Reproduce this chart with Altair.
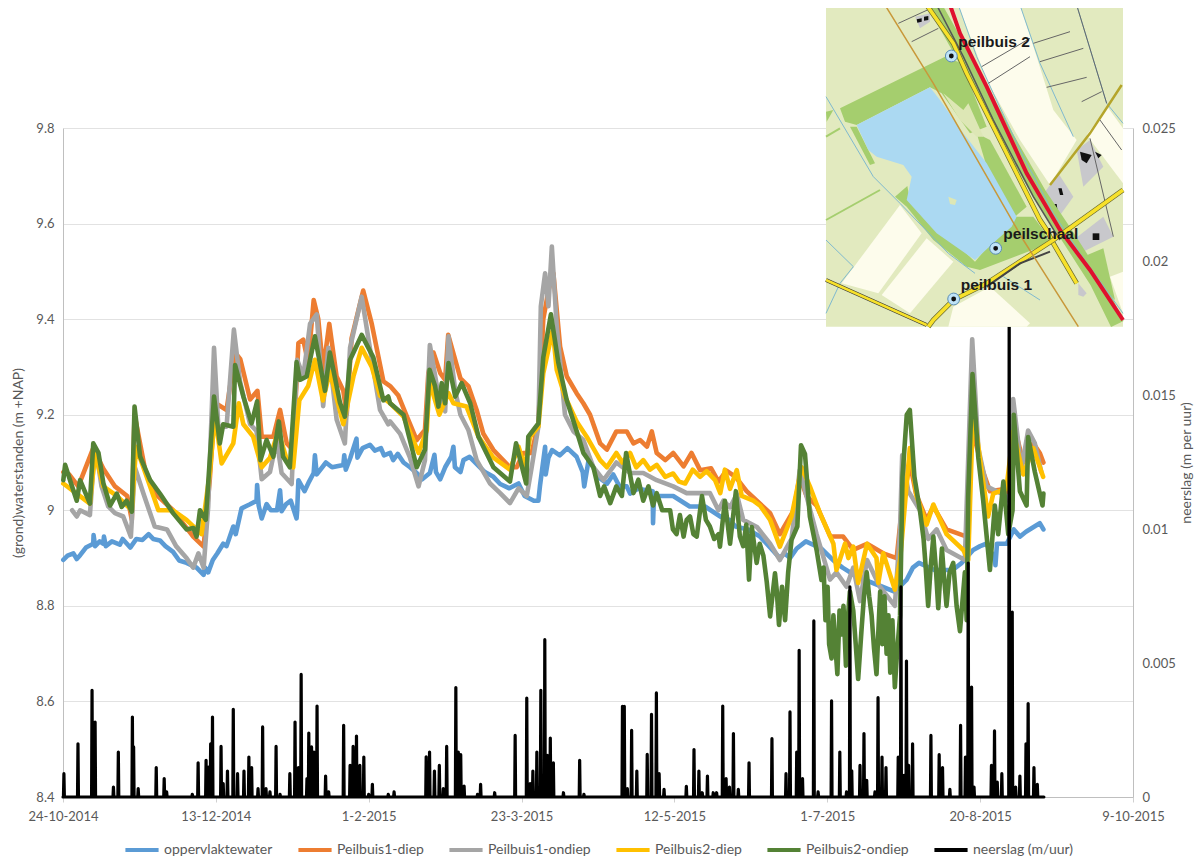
import altair as alt
import pandas as pd

tick_labels = ["24-10-2014", "13-12-2014", "1-2-2015", "23-3-2015", "12-5-2015", "1-7-2015", "20-8-2015", "9-10-2015"]
tick_days = [0, 50, 100, 150, 200, 250, 300, 350]
names = ["oppervlaktewater", "Peilbuis1-diep", "Peilbuis1-ondiep", "Peilbuis2-diep", "Peilbuis2-ondiep", "neerslag (m/uur)"]
colors = ["#5B9BD5", "#ED7D31", "#A5A5A5", "#FFC000", "#548235", "#000000"]

blue = [(0.1,8.896),(1.5,8.905),(3.4,8.91),(4.5,8.898),(5.6,8.906),(7.5,8.922),(9.9,8.93),(10,8.948),(10.5,8.925),(12,8.935),(13.2,8.93),(13.4,8.945),(14,8.925),(16,8.935),(18.6,8.928),(19.5,8.94),(22,8.922),(24,8.94),(26,8.938),(28,8.95),(29.5,8.94),(31.7,8.937),(33.5,8.925),(36,8.913),(38,8.895),(40.4,8.89),(43.7,8.88),(46,8.865),(46.5,8.88),(47.5,8.87),(49,8.896),(50.5,8.91),(52.4,8.93),(53.5,8.925),(55.7,8.966),(56.5,8.95),(58.4,9.004),(61,9.012),(63.3,9.02),(63.5,9.053),(64,9.01),(65,8.983),(66.6,9.013),(68,9.0),(70,9.0),(71,9.042),(71.5,8.998),(73,9.013),(74.5,9.02),(76.4,8.983),(76.6,9.0),(77,9.063),(79,9.04),(80.5,9.06),(82,9.078),(82.4,9.115),(83,9.075),(86,9.10),(88,9.09),(91.7,9.095),(92,9.115),(92.5,9.085),(94,9.11),(96,9.15),(96.3,9.11),(98,9.13),(100.4,9.137),(102,9.125),(104,9.13),(105,9.115),(107,9.12),(108,9.105),(109.5,9.118),(111.4,9.10),(113.5,9.09),(115.7,9.078),(117.5,9.065),(120,9.078),(121.5,9.116),(122,9.08),(123.4,9.065),(125,9.09),(127,9.112),(127.7,9.133),(128.2,9.09),(130,9.08),(131,9.105),(133,9.112),(136.4,9.09),(138,9.08),(140.8,9.07),(143,9.055),(146,9.046),(149,9.056),(151,9.03),(154,9.02),(155.5,9.02),(156,9.05),(157.7,9.133),(157.9,9.075),(158.8,9.11),(160,9.126),(162.5,9.115),(165,9.13),(168,9.112),(170,9.08),(170.5,9.05),(172,9.108),(175,9.07),(178,9.056),(180,9.075),(182,9.05),(184.4,9.05),(185.5,9.035),(188,9.045),(192.9,9.04),(193,8.973),(193.3,9.03),(199.6,9.03),(205,9.008),(210,9.008),(215,8.987),(218,8.98),(220,8.966),(224,8.96),(228,8.945),(234.5,8.90),(236,8.91),(237.8,8.9),(240,8.92),(243,8.935),(248,8.92),(252,8.895),(255,8.88),(260,8.86),(268,8.84),(272,8.83),(276,8.855),(278,8.88),(280,8.89),(285,8.875),(291,8.875),(294,8.89),(297.7,8.917),(300,8.925),(302,8.93),(304.8,8.9),(305,8.885),(305.5,8.93),(308.7,8.93),(311,8.96),(313,8.945),(315,8.955),(317.5,8.965),(319.5,8.973),(320.7,8.96)]

orange = [(0.1,9.08),(2,9.075),(5,9.05),(9.9,9.13),(13.2,9.087),(17,9.05),(21,9.03),(22.5,8.98),(23.4,9.2),(27,9.08),(31,9.03),(36,9.0),(42.6,8.945),(46,8.924),(48,9.063),(49.7,9.225),(53.5,9.21),(56.3,9.33),(58,9.316),(61.2,9.232),(63.6,9.25),(65,9.154),(68.8,9.154),(71,9.21),(73.2,9.14),(75.3,9.126),(77,9.35),(78.6,9.357),(80.2,9.308),(82,9.44),(83.5,9.4),(85.1,9.294),(87.1,9.39),(89.5,9.28),(91.7,9.25),(92.8,9.2),(94.4,9.36),(98.2,9.46),(101,9.39),(104.8,9.27),(107,9.26),(109.7,9.24),(112.5,9.196),(115.7,9.147),(118.4,9.168),(119.5,9.287),(121.2,9.33),(123.4,9.287),(125,9.273),(126,9.367),(128.3,9.315),(130,9.276),(132.6,9.26),(135.3,9.21),(137.5,9.16),(140.8,9.126),(146.2,9.09),(148.4,9.09),(150.6,9.12),(153.3,9.12),(155.5,9.182),(157.1,9.4),(158.8,9.46),(160.4,9.496),(162.6,9.343),(164.8,9.28),(168,9.245),(170.2,9.224),(172.4,9.2),(175.7,9.14),(177.9,9.127),(181,9.165),(184.4,9.165),(186.6,9.14),(188.8,9.147),(191,9.133),(192.6,9.165),(194.2,9.12),(197,9.105),(199.6,9.12),(203,9.092),(205.6,9.12),(208.4,9.084),(212,9.088),(214.4,9.06),(217,9.083),(220,9.07),(223.6,9.04),(231.3,8.994),(234.5,8.95),(239,9.0),(241,9.07),(243.2,9.03),(246.5,9.01),(251,8.945),(255.2,8.945),(258.5,8.917),(263,8.93),(268.3,8.91),(272.7,8.9),(274.3,9.0),(277,9.1),(279,9.035),(282.5,8.98),(284.7,9.008),(289,8.96),(295.6,8.945),(296.7,9.17),(298.8,9.135),(301,9.08),(303.2,9.04),(308.6,9.045),(309.7,9.025),(311.4,9.17),(314.1,9.1),(317.4,9.14),(319.5,9.12),(320.7,9.1)]

gray = [(3,9.0),(4.5,8.987),(5.6,9.0),(8.8,8.99),(9.9,9.09),(11,9.118),(12.6,9.05),(14.8,9.008),(17,8.994),(19.7,8.987),(22.2,8.945),(23.5,9.09),(26.3,9.035),(30,8.966),(34,8.96),(37,8.925),(40.4,8.9),(42.6,8.88),(44.3,8.91),(46,8.88),(47.5,9.008),(49.4,9.34),(50.8,9.175),(53.5,9.175),(55.9,9.378),(57.9,9.27),(61.2,9.18),(63.3,9.166),(65,9.065),(67.7,9.08),(69.9,9.147),(71.5,9.078),(74.8,9.055),(76.6,9.315),(78.6,9.28),(80.8,9.39),(83,9.41),(85.1,9.218),(86.8,9.34),(89.5,9.19),(92.2,9.14),(93.9,9.34),(97.7,9.447),(101,9.315),(103.7,9.21),(106.4,9.18),(107,9.186),(110.3,9.16),(113.5,9.11),(116.3,9.05),(118.4,9.105),(120,9.346),(122.3,9.26),(125,9.207),(126.1,9.364),(128.3,9.25),(130,9.2),(132.6,9.168),(135.3,9.105),(139.7,9.056),(143,9.036),(146.2,9.015),(149,9.046),(151.7,9.03),(153.3,9.09),(155.5,9.175),(156.3,9.427),(157.7,9.496),(158.8,9.427),(159.9,9.552),(161.5,9.385),(164.2,9.2),(167,9.165),(170.2,9.147),(173.5,9.09),(176.8,9.063),(181,9.1),(185.5,9.078),(189.8,9.078),(194.2,9.063),(199.6,9.05),(204,9.036),(208.4,9.036),(211.6,9.036),(214.4,9.0),(216,9.02),(218.2,9.006),(220.4,9.034),(222.5,8.98),(227,8.965),(231.3,8.93),(234.5,8.896),(238.3,8.94),(241,9.084),(243.2,9.03),(246.5,8.95),(250.9,8.855),(253,8.87),(256.3,8.84),(258.5,8.88),(260.7,8.81),(263,8.896),(267.2,8.84),(272.1,8.8),(273.8,8.96),(274.5,9.115),(276.5,9.04),(280.3,9.0),(283,8.94),(285.8,8.96),(289,8.917),(295,8.896),(297.4,9.358),(299.4,9.13),(302.1,9.05),(308.6,9.03),(309.7,9.017),(310.8,9.233),(313.5,9.085),(315.7,9.167),(317.9,9.14),(320,9.08)]

yellow = [(0.1,9.056),(4.5,9.035),(8.8,9.014),(10.5,9.12),(13.2,9.05),(17.6,9.03),(22.5,9.0),(23.9,9.133),(28.5,9.05),(31.2,9.0),(36,9.0),(40.4,8.98),(45.3,8.95),(48,9.078),(49.7,9.2),(51.9,9.098),(55.7,9.14),(57.5,9.224),(59,9.18),(62.2,9.154),(65,9.09),(67.7,9.11),(70.4,9.166),(73,9.11),(75.3,9.09),(77.3,9.23),(80.2,9.26),(82.4,9.315),(85,9.23),(87.3,9.29),(91.7,9.18),(95,9.28),(97.7,9.34),(101,9.3),(103.7,9.24),(107,9.224),(111.4,9.196),(116.3,9.12),(119,9.168),(119.9,9.273),(121,9.245),(123.1,9.2),(126.1,9.245),(127.7,9.224),(132,9.217),(135.9,9.154),(140.8,9.11),(146.2,9.085),(149,9.133),(151.1,9.09),(152.8,9.154),(155.5,9.175),(157.1,9.287),(160.2,9.378),(161.5,9.294),(164.2,9.238),(168,9.186),(171.3,9.154),(175.7,9.105),(177.9,9.09),(181,9.12),(183,9.10),(185.5,9.12),(187.5,9.09),(189.8,9.105),(192,9.085),(194.2,9.095),(197,9.07),(199.6,9.077),(201.5,9.06),(203.5,9.056),(206,9.085),(208.4,9.07),(210.5,9.082),(213.3,9.063),(215,9.036),(216.5,9.085),(218.2,9.045),(220.4,9.084),(222,9.03),(225.8,9.02),(228,9.01),(231.3,8.98),(234.5,8.924),(238.3,8.987),(241.6,9.09),(244.3,9.05),(247.6,8.994),(252,8.93),(253,8.875),(255.8,8.93),(256.9,8.90),(258.5,8.924),(260.1,8.848),(263,8.93),(266.1,8.90),(266.7,8.848),(268.3,8.91),(272.1,8.834),(273.8,8.895),(277,9.13),(279.2,9.03),(282.5,8.97),(284.7,9.012),(289,8.95),(294.5,8.917),(296.1,8.896),(297.7,9.216),(300,9.105),(302.6,8.987),(304.3,9.035),(308.6,9.045),(310.8,9.165),(314.1,9.075),(317.4,9.13),(320.6,9.07)]

green = [(0.1,9.063),(0.7,9.095),(2.3,9.063),(4.5,9.02),(5.6,9.063),(8.8,9.014),(9.9,9.14),(11.6,9.12),(13.2,9.057),(15.4,9.01),(17.6,9.035),(19.2,9.007),(20.8,9.02),(22.5,8.997),(23.4,9.217),(25.2,9.113),(28.5,9.063),(31.7,9.035),(36,8.994),(40.4,8.96),(42.6,8.963),(43.7,8.945),(44.8,9.0),(46.7,8.98),(48,9.105),(49.4,9.238),(51.3,9.14),(52.4,9.18),(55.7,9.175),(56.3,9.304),(59,9.238),(61.7,9.182),(63.5,9.228),(64.6,9.105),(66.6,9.147),(68.8,9.112),(70.6,9.186),(72,9.112),(74.2,9.09),(76.4,9.31),(77.5,9.273),(79.7,9.28),(82.4,9.364),(85.7,9.25),(87.3,9.33),(90.6,9.225),(92.2,9.196),(93.9,9.315),(97.7,9.367),(101.5,9.32),(104.8,9.23),(106.4,9.238),(107,9.224),(111.4,9.2),(115.7,9.09),(118.4,9.127),(119.9,9.294),(121.7,9.26),(122.8,9.217),(123.9,9.266),(125,9.224),(126.1,9.308),(128.3,9.238),(130.4,9.266),(133.2,9.224),(135.9,9.154),(140.8,9.09),(146.2,9.06),(148.2,9.14),(151.5,9.056),(152.2,9.154),(155.5,9.182),(157.1,9.32),(159.6,9.41),(162,9.31),(164.8,9.23),(168.6,9.154),(170.2,9.12),(173.5,9.09),(175.7,9.03),(177,9.05),(179,9.015),(181,9.05),(182.8,9.03),(184.2,9.12),(186.6,9.036),(188.2,9.064),(189.8,9.02),(191.5,9.05),(193,9.01),(194.2,9.036),(196,9.0),(198.6,9.0),(199.5,8.96),(200.7,8.95),(201.8,8.99),(203,8.945),(204,8.98),(205.1,8.987),(206.2,8.95),(207.3,8.945),(208.2,8.99),(209,9.03),(210.3,8.98),(211.6,8.966),(213,8.94),(214.4,8.95),(214.9,8.924),(216.5,9.02),(218.2,8.93),(220.1,9.04),(221.4,8.945),(222.5,8.925),(223.5,8.97),(224.4,8.855),(225.3,8.965),(226.9,8.89),(227.9,8.93),(229.1,8.905),(230.2,8.85),(231.3,8.778),(232.9,8.868),(233.5,8.83),(234.2,8.76),(235.2,8.84),(236.2,8.77),(237.2,8.87),(238.3,8.938),(240.2,8.966),(241.4,9.136),(242.7,9.118),(244.3,8.987),(246.5,8.917),(248.1,8.854),(248.8,8.88),(249.4,8.77),(250.1,8.84),(250.6,8.72),(251.4,8.69),(252,8.78),(252.6,8.72),(253.3,8.657),(254,8.79),(254.5,8.74),(255.3,8.8),(256.1,8.675),(256.8,8.78),(257.4,8.83),(258.5,8.79),(259.3,8.72),(260.1,8.647),(261.2,8.75),(262,8.82),(262.9,8.87),(263.7,8.82),(264.5,8.78),(265.3,8.71),(266.1,8.657),(266.8,8.76),(267.3,8.83),(268,8.72),(268.7,8.82),(269.4,8.70),(270,8.78),(270.6,8.66),(271.3,8.77),(272.1,8.63),(272.8,8.70),(273.8,8.78),(274.6,9.07),(276,9.2),(277,9.21),(278.5,9.07),(280.3,9.0),(281.5,8.94),(282.2,8.88),(283,8.8),(283.8,8.88),(284.7,8.945),(285.5,8.88),(286.3,8.795),(287.5,8.92),(288.2,8.86),(289,8.8),(290,8.87),(291.2,8.89),(292.3,8.80),(293.4,8.747),(295,8.87),(295.6,8.77),(296.1,9.03),(297.5,9.285),(299.4,9.11),(301,9.02),(303.2,8.875),(304.8,9.01),(305.9,8.95),(307.6,9.06),(309.2,8.95),(310.6,9.0),(311,9.2),(313,9.04),(315.2,9.01),(315.7,9.153),(317.9,9.08),(320.4,9.01),(320.7,9.035)]

rain_peaks = [(0.3,.00087),(4.9,.00199),(9.5,.00399),(10.5,.0028),(16.5,.00037),(18.1,.00168),(22.7,.00299),(23.1,.00187),(24.6,.00031),(30.5,.0011),(33.1,.00069),(33.9,.00019),(42.3,.0001),(44.2,.00128),(46.8,.00137),(47.5,.00112),(48.3,.00199),(48.9,.00299),(51.7,.00189),(52.4,.0005),(53.8,.00097),(55.7,.00328),(57.1,.00087),(59.2,.00097),(60.8,.00149),(61.7,.0011),(63.8,.00031),(65.3,.00262),(66.4,.00031),(67.7,.00019),(69.7,.00189),(71,.0001),(74.2,.00087),(75.9,.0028),(77,.0011),(77.9,.00458),(79.8,.00069),(80.4,.00239),(81.3,.00187),(82.1,.00168),(83.1,.0034),(85.9,.00078),(86.9,.00019),(91.8,.00268),(93.9,.00118),(94.9,.00189),(96,.00228),(97.1,.00118),(98.4,.00149),(100,.0001),(101.2,.00047),(106.4,.0001),(108.3,.00019),(118.8,.0015),(119.9,.00168),(121.5,.00097),(123.1,.00118),(124.4,.00031),(125.5,.00189),(128.5,.00409),(129.3,.00168),(130.1,.00158),(131.2,.00041),(135.6,.0001),(136.6,.00047),(141.2,.00016),(147.9,.0023),(151.7,.0037),(152.8,.0005),(153.7,.00097),(155,.00168),(156.3,.00399),(157.6,.00588),(158.4,.00156),(159.4,.0022),(160.4,.00128),(163.7,.00016),(169,.00137),(170.4,.0001),(183,.00339),(183.6,.00339),(184.6,.00031),(186,.00249),(187.7,.00097),(191.1,.00159),(192.5,.00309),(194.1,.00389),(195,.00087),(196.6,.00029),(203.9,.0004),(206.4,.00177),(208,.00097),(209.1,.00016),(210.8,.00078),(212.7,.00016),(213.8,.00016),(215.8,.0034),(216.9,.00069),(218,.00037),(219.3,.00237),(220.9,.00029),(224.4,.00128),(231.9,.00218),(236.5,.00087),(237.8,.00318),(240,.00168),(240.8,.00548),(241.9,.00069),(245.6,.00658),(247,.00019),(251.4,.00359),(254.1,.00168),(256.3,.00019),(257.4,.00785),(258,.00098),(260.7,.00118),(262,.00237),(262.9,.00062),(265.6,.00019),(266.6,.00371),(267.9,.00149),(269.2,.0011),(273.2,.00149),(274.1,.00785),(275.1,.00081),(275.9,.00508),(276.6,.00118),(277.9,.00199),(283.9,.0023),(286.6,.00158),(287.7,.0011),(290.1,.00029),(293.6,.00268),(295.2,.00149),(296.1,.00874),(297.2,.00411),(298,.00037),(303.7,.00118),(304.7,.00247),(305.6,.00056),(307.1,.00087),(309.5,.019),(310.5,.00691),(311.6,.00037),(313,.00078),(315,.00199),(315.7,.00349),(317.6,.0011),(318.7,.00047),(320.7,0)]

# map of the site: coordinates on the inset's own grid
bg = [(18,15),(909,15),(909,980),(18,980)]
polys = [
 (bg,"#E2EABF"),
 ([(415,15),(600,15),(650,170),(700,330),(770,420),(690,555),(600,420),(500,240)],"#FDFCEC"),
 ([(862,320),(909,385),(909,550),(800,405)],"#FDFCEC"),
 ([(65,850),(240,615),(305,700),(175,880)],"#FDFCEC"),
 ([(185,885),(320,715),(400,785),(270,940)],"#FDFCEC"),
 ([(385,980),(400,920),(510,860),(630,970),(620,980)],"#FDFCEC"),
 ([(870,830),(909,815),(909,940)],"#FDFCEC"),
 ([(60,325),(375,170),(425,190),(500,380),(450,400),(365,280),(330,262),(110,375),(75,365)],"#A5CE6E"),
 ([(470,400),(510,420),(620,620),(585,650),(500,500)],"#A5CE6E"),
 ([(580,650),(640,650),(670,690),(690,730),(480,810),(440,800),(340,720),(260,620),(225,590),(262,558),(270,600),(465,785)],"#A5CE6E"),
 ([(790,770),(850,745),(885,900),(840,860)],"#A5CE6E"),
 ([(90,380),(110,380),(165,490),(150,495)],"#A5CE6E"),
 ([(18,335),(40,330),(20,365)],"#A5CE6E"),
 ([(110,375),(330,262),(360,300),(430,400),(500,490),(590,650),(575,680),(530,720),(465,780),(350,700),(260,600),(275,530),(250,495),(170,470),(145,450)],"#ABD9F2"),
 ([(385,590),(410,600),(405,615),(390,612)],"#DDE7B5"),
 ([(370,280),(430,330),(445,310),(490,410),(470,410),(420,360)],"#DDE7B5"),
 ([(770,450),(810,420),(850,500),(790,560)],"#C8C8CC"),
 ([(665,590),(715,520),(760,590),(710,660)],"#C8C8CC"),
 ([(760,720),(850,650),(880,710),(780,760)],"#C8C8CC"),
 ([(775,850),(800,880),(790,890),(775,885)],"#C8C8CC"),
 ([(285,50),(330,40),(330,65),(300,85)],"#C8C8CC"),
 ([(780,455),(815,465),(800,490),(785,480)],"#111111"),
 ([(825,455),(845,465),(835,475)],"#111111"),
 ([(818,700),(838,700),(838,720),(818,720)],"#111111"),
 ([(715,565),(725,565),(730,585),(720,585)],"#111111"),
 ([(700,612),(710,612),(712,628),(702,628)],"#111111"),
 ([(290,58),(305,55),(305,65),(292,68)],"#111111"),
 ([(312,50),(325,48),(325,60),(312,62)],"#111111"),
]
lines = [
 ([(345,18),(400,115),(470,240),(560,410),(660,585),(740,705),(830,845),(892,972)],"#A5CE6E",14),
 ([(18,290),(160,530),(240,610),(385,760),(465,820)],"#7FB9CF",1),
 ([(18,720),(100,800),(60,850),(18,940)],"#7FB9CF",1),
 ([(600,15),(660,190),(760,410)],"#7FB9CF",1),
 ([(770,15),(860,310),(909,370)],"#7FB9CF",1),
 ([(415,15),(470,170),(520,280),(610,470),(700,640),(780,760),(909,940)],"#7FB9CF",1),
 ([(550,830),(660,900)],"#7FB9CF",1),
 ([(235,70),(355,15)],"#666666",1),
 ([(275,125),(355,85)],"#666666",1),
 ([(485,200),(630,115)],"#666666",1),
 ([(640,130),(750,95)],"#666666",1),
 ([(660,185),(790,145)],"#666666",1),
 ([(505,250),(630,170)],"#666666",1),
 ([(680,262),(800,232)],"#666666",1),
 ([(785,305),(845,275)],"#666666",1),
 ([(770,15),(860,310)],"#666666",1),
 ([(840,360),(905,450)],"#666666",1),
 ([(810,415),(880,710)],"#666666",1),
 ([(18,660),(180,570)],"#A5CE6E",2),
 ([(18,410),(60,385)],"#A5CE6E",2),
 ([(905,255),(810,400),(690,555)],"#B5A52A",2.5),
 ([(350,15),(430,170),(520,360),(640,590),(720,720)],"#555555",1.5),
 ([(320,15),(400,130),(440,220),(540,420),(660,660),(680,690),(700,730),(770,850)],"#6B6B2F",5),
 ([(320,15),(400,130),(440,220),(540,420),(660,660),(680,690),(700,730),(770,850)],"#F7E12A",3.6),
 ([(390,15),(420,100),(500,260),(620,520),(720,690),(810,810),(909,960)],"#E0102E",4),
 ([(909,570),(700,720),(500,850),(400,900),(340,960),(325,980)],"#6B6B2F",5),
 ([(909,570),(700,720),(500,850),(400,900),(340,960),(325,980)],"#F7E12A",3.6),
 ([(18,840),(320,975)],"#333333",4),
 ([(18,840),(320,975)],"#F7E12A",2.5),
 ([(690,755),(600,790),(500,860)],"#444444",2),
 ([(195,15),(340,250),(610,720),(775,980)],"#C8983A",1.5),
]
marker_x = [394, 527, 401]
marker_y = [168, 745, 897]
label_x = [415, 550, 422]
label_y = [125, 703, 855]
label_text = ["peilbuis 2", "peilschaal", "peilbuis 1"]


def table(rows, name):
    return pd.DataFrame({"day": [r[0] for r in rows], "value": [r[1] for r in rows], "series": name})


rain_rows = [(0, 0)]
for d, v in rain_peaks:
    rain_rows += [(d - 0.15, 0), (d, v), (d + 0.15, 0)]

FONT = "Lato"
TXT = "#595959"
labels_js = "[" + ",".join(f"'{t}'" for t in tick_labels) + "]"

x_enc = alt.X("day:Q", scale=alt.Scale(domain=[0, 350], nice=False, zero=False),
              axis=alt.Axis(values=tick_days, labelExpr=f"{labels_js}[round(datum.value/50)]", title=None, grid=False,
                            domainColor="#BFBFBF", tickColor="#D0D0D0", tickSize=5, labelFont=FONT, labelFontSize=13,
                            labelColor=TXT, labelPadding=8, labelOverlap=False, labelFlush=False))
y_axis = alt.Axis(values=[8.4, 8.6, 8.8, 9.0, 9.2, 9.4, 9.6, 9.8], format="~g", title="(grond)waterstanden (m +NAP)",
                  titleFont=FONT, titleFontSize=14, titleFontWeight="normal", titleColor=TXT, titleX=-38,
                  labelFont=FONT, labelFontSize=13, labelColor=TXT, labelPadding=9, tickSize=0,
                  grid=True, gridColor="#E2E2E2", domainColor="#BFBFBF")
y_enc = alt.Y("value:Q", scale=alt.Scale(domain=[8.4, 9.8], nice=False, zero=False), axis=y_axis)
color_enc = alt.Color("series:N", scale=alt.Scale(domain=names, range=colors),
                      legend=alt.Legend(orient="none", legendX=60, legendY=703, direction="horizontal", columns=6, title=None,
                                        symbolType="stroke", symbolStrokeWidth=4, symbolSize=1100, labelFont=FONT,
                                        labelFontSize=14, labelColor=TXT, columnPadding=17, labelOffset=3))


def line(rows, name, width=4.6):
    return alt.Chart(table(rows, name)).mark_line(strokeWidth=width, strokeCap="round", strokeJoin="round", clip=False).encode(
        x=x_enc, y=y_enc, color=color_enc, order=alt.Order("idx:Q")).transform_calculate(idx="datum.day")


levels = alt.layer(line(blue, names[0]), line(orange, names[1]), line(gray, names[2]), line(yellow, names[3]), line(green, names[4]))

rain = alt.Chart(table(rain_rows, names[5])).mark_line(strokeWidth=3.2, strokeJoin="round", strokeCap="round", clip=False).encode(
    x=x_enc,
    y=alt.Y("value:Q", scale=alt.Scale(domain=[0, 0.025], nice=False, zero=False),
            axis=alt.Axis(orient="right", values=[0, 0.005, 0.01, 0.015, 0.02, 0.025], format="~g", title="neerslag (m per uur)",
                          titleFont=FONT, titleFontSize=14, titleFontWeight="normal", titleColor=TXT, titleAngle=270, titleX=60,
                          labelFont=FONT, labelFontSize=13, labelColor=TXT, labelPadding=9, tickSize=0, grid=False,
                          domainColor="#BFBFBF")),
    color=color_enc)

features = []
for ring, fill in polys:
    features.append({"type": "Feature", "properties": {"fill": fill, "stroke": "transparent", "sw": 0},
                     "geometry": {"type": "Polygon", "coordinates": [[list(p) for p in ring + [ring[0]]]]}})
for path, stroke, sw in lines:
    features.append({"type": "Feature", "properties": {"fill": "transparent", "stroke": stroke, "sw": sw},
                     "geometry": {"type": "LineString", "coordinates": [list(p) for p in path]}})

proj = dict(type="identity", scale=1 / 3, translate=[757, -128])
map_shapes = alt.Chart(alt.Data(values=features)).mark_geoshape(clip=False).encode(
    fill=alt.Fill("properties.fill:N", scale=None, legend=None),
    stroke=alt.Stroke("properties.stroke:N", scale=None, legend=None),
    strokeWidth=alt.StrokeWidth("properties.sw:Q", scale=None, legend=None),
).project(**proj)

markers = pd.DataFrame({"mx": marker_x, "my": marker_y})
marker_rings = alt.Chart(markers).mark_point(clip=False, filled=True, size=140, fill="#BFE3F7", stroke="#5C8DB5", strokeWidth=1, opacity=1).encode(
    longitude="mx:Q", latitude="my:Q").project(**proj)
marker_dots = alt.Chart(markers).mark_point(clip=False, filled=True, size=8, fill="#111111", stroke="#111111", opacity=1).encode(
    longitude="mx:Q", latitude="my:Q").project(**proj)
map_labels = alt.Chart(pd.DataFrame({"mx": label_x, "my": label_y, "t": label_text})).mark_text(
    clip=False, align="left", baseline="middle", font="Liberation Sans", fontWeight="bold", fontSize=15.5, color="#1A1A1A").encode(
    longitude="mx:Q", latitude="my:Q", text="t:N").project(**proj)

chart = alt.layer(levels, rain, map_shapes, marker_rings, marker_dots, map_labels).resolve_scale(y="independent").properties(
    width=1070, height=669,
    padding={"left": 55, "top": 120, "right": 62, "bottom": 59},
    autosize=alt.AutoSizeParams(type="none"),
    background="white",
).configure_view(stroke=None)

chart.save("out.html", embed_options={"renderer": "svg", "actions": False})
